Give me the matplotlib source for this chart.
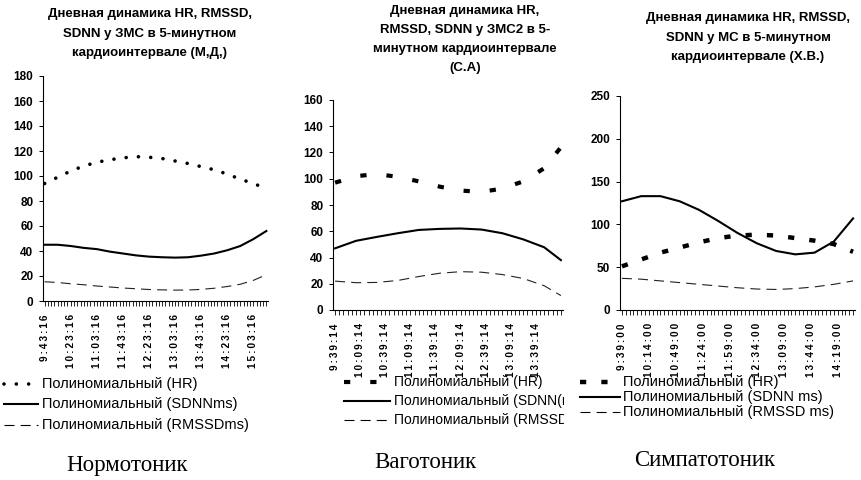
import matplotlib
matplotlib.use('Agg')
import matplotlib.pyplot as plt
from matplotlib.lines import Line2D
from matplotlib.transforms import Bbox, TransformedBbox

# Нормотоник (М.Д.)
p1_title = 'Дневная динамика HR, RMSSD,\nSDNN у ЗМС в 5-минутном\nкардиоинтервале (М,Д,)'
p1_count = 69
p1_step = 8
p1_ticks = ['9:43:16', '10:23:16', '11:03:16', '11:43:16', '12:23:16',
            '13:03:16', '13:43:16', '14:23:16', '15:03:16']
p1_idx = [0, 4, 8, 12, 16, 20, 24, 28, 32, 36, 40, 44, 48, 52, 56, 60, 64, 68]
p1_hr = [94, 99, 104, 108, 111, 113, 114.5, 115.5, 115, 114, 112, 110,
         107.5, 105, 101.5, 97.5, 94, 90]
p1_sdnn = [45, 45, 44, 42.5, 41.5, 39.5, 38, 36.5, 35.5, 35, 34.7, 35,
           36.3, 38, 40.6, 44, 49.5, 56]
p1_rmssd = [15.4, 14.8, 13.8, 13, 12, 11.2, 10.4, 9.8, 9.2, 8.9, 8.7, 8.8,
            9.3, 10.2, 11.6, 13.4, 16.5, 21]
p1_legend = ['Полиномиальный (HR)', 'Полиномиальный (SDNNms)',
             'Полиномиальный (RMSSDms)']

# Ваготоник (С.А)
p2_title = 'Дневная динамика HR,\nRMSSD, SDNN у ЗМС2 в 5-\nминутном кардиоинтервале\n(С.А)'
p2_count = 55
p2_step = 6
p2_ticks = ['9:39:14', '10:09:14', '10:39:14', '11:09:14', '11:39:14',
            '12:09:14', '12:39:14', '13:09:14', '13:39:14']
p2_idx = [0, 5, 10, 15, 20, 25, 30, 35, 40, 45, 50, 54]
p2_hr = [97, 102, 103.5, 101.5, 98, 94, 91, 90, 92.5, 98, 108, 124]
p2_sdnn = [47, 52.7, 55.7, 58.5, 61, 61.8, 62.1, 61.3, 58.5, 53.8, 47.8, 38]
p2_rmssd = [22, 20.8, 21, 22.5, 25.5, 28, 29.2, 28.8, 27, 24, 18.5, 11]
p2_legend = ['Полиномиальный (HR)', 'Полиномиальный (SDNN(ms)',
             'Полиномиальный (RMSSD(ms)']

# Симпатотоник (Х.В.)
p3_title = 'Дневная динамика HR, RMSSD,\nSDNN у МС в 5-минутном\nкардиоинтервале (Х.В.)'
p3_count = 61
p3_step = 7
p3_ticks = ['9:39:00', '10:14:00', '10:49:00', '11:24:00', '11:59:00',
            '12:34:00', '13:09:00', '13:44:00', '14:19:00']
p3_idx = [0, 5, 10, 15, 20, 25, 30, 35, 40, 45, 50, 55, 60]
p3_hr = [51, 59, 67, 73, 79, 84, 87, 88, 87, 84, 81, 77, 68]
p3_sdnn = [127, 133, 133, 127, 117, 104, 90, 78, 69, 65, 67, 80, 107]
p3_rmssd = [37, 36, 34, 32, 30, 28, 26, 24.5, 24, 25, 27, 30, 34]
p3_legend = ['Полиномиальный (HR)', 'Полиномиальный (SDNN ms)',
             'Полиномиальный (RMSSD ms)']

captions = ['Нормотоник', 'Ваготоник', 'Симпатотоник']

W, H = 862, 480
NARROW = ['Liberation Sans Narrow', 'Liberation Sans', 'DejaVu Sans']
SANS = ['Liberation Sans', 'DejaVu Sans']


def px_axes(fig, left, top, right, bottom):
    return fig.add_axes([left / W, 1 - bottom / H, (right - left) / W, (bottom - top) / H])


def spaced(s):
    return '\u2009'.join(s)


def draw_panel(fig, box, ymax, ystep, count, step, ticks, idx, hr, sdnn, rmssd, hr_style):
    ax = px_axes(fig, *box)
    ax.plot(idx, hr, color='black', solid_capstyle='round', **hr_style)
    ax.plot(idx, sdnn, color='black', lw=1.5)
    ax.plot(idx, rmssd, color='#222222', lw=0.8, linestyle=(0, (9, 5.5)))
    ax.set_xlim(-0.5, count - 0.5)
    ax.set_ylim(0, ymax)
    ax.set_yticks(range(0, ymax + 1, ystep))
    ax.set_xticks(range(count))
    labels = [''] * count
    for i, t in enumerate(ticks):
        labels[i * step] = spaced(t)
    ax.set_xticklabels(labels, rotation=90, fontsize=7.2, fontweight='bold', family=SANS)
    for lab in ax.get_yticklabels():
        lab.set_fontweight('bold')
        lab.set_fontsize(8.5)
        lab.set_family(SANS)
    ax.tick_params(axis='x', length=3.5, width=0.6, pad=6)
    ax.tick_params(axis='y', length=3, width=0.7, pad=4)
    ax.spines['top'].set_visible(False)
    ax.spines['right'].set_visible(False)
    ax.spines['left'].set_linewidth(0.8)
    ax.spines['bottom'].set_linewidth(0.8)
    ax.set_facecolor('none')
    return ax


def legend_line(fig, x0, x1, y, **kw):
    fig.add_artist(Line2D([x0 / W, x1 / W], [1 - y / H, 1 - y / H],
                          transform=fig.transFigure, color='black', **kw))


def legend_block(fig, hx0, hx1, tx, ys, texts, hr_style, size, clip_x=None):
    legend_line(fig, hx0, hx1, ys[0], solid_capstyle='round', **hr_style)
    legend_line(fig, hx0, hx1, ys[1], lw=1.5)
    legend_line(fig, hx0, hx1, ys[2], lw=0.8, linestyle=(0, (9, 5.5)))
    for y, t in zip(ys, texts):
        txt = fig.text(tx / W, 1 - y / H, t, fontsize=size, family=NARROW, va='center', ha='left')
        if clip_x is not None:
            txt.set_clip_box(TransformedBbox(Bbox([[0, 0], [clip_x / W, 1]]), fig.transFigure))
            txt.set_clip_on(True)


if __name__ == '__main__':

    fig = plt.figure(figsize=(W / 100, H / 100), dpi=100)
    fig.patch.set_facecolor('white')

    # 1. HR line styles (dots / short thick dashes)
    hr1 = dict(lw=2.6, linestyle=(0, (0.01, 3.4)), dash_capstyle='round')
    hr2 = dict(lw=3.0, linestyle=(0, (1.5, 4.8)))
    hr3 = dict(lw=3.2, linestyle=(0, (1.4, 3.4)))

    # 2. three panels
    draw_panel(fig, (43, 76, 268, 301), 180, 20, p1_count, p1_step, p1_ticks,
               p1_idx, p1_hr, p1_sdnn, p1_rmssd, hr1)
    draw_panel(fig, (333, 100, 563, 310), 160, 20, p2_count, p2_step, p2_ticks,
               p2_idx, p2_hr, p2_sdnn, p2_rmssd, hr2)
    draw_panel(fig, (620, 96, 855, 310), 250, 50, p3_count, p3_step, p3_ticks,
               p3_idx, p3_hr, p3_sdnn, p3_rmssd, hr3)

    # 3. titles
    fig.text(150 / W, 1 - 8 / H, p1_title, ha='center', va='top', fontsize=9.5,
             fontweight='bold', family=NARROW, linespacing=1.86)
    fig.text(465 / W, 1 - 5 / H, p2_title, ha='center', va='top', fontsize=9.5,
             fontweight='bold', family=NARROW, linespacing=1.77)
    fig.text(748 / W, 1 - 12 / H, p3_title, ha='center', va='top', fontsize=9.5,
             fontweight='bold', family=NARROW, linespacing=1.86)

    # 4. legends under the charts
    legend_block(fig, 4, 38, 42, [384, 404, 425], p1_legend, hr1, 10.5)
    legend_block(fig, 344, 390, 394, [382, 401, 420], p2_legend, hr2, 10, clip_x=564)
    legend_block(fig, 580, 620, 623, [382, 397, 412], p3_legend, hr3, 10.5)

    # 5. captions
    for x, y, c in zip([127, 425, 705], [466, 463, 460], captions):
        fig.text(x / W, 1 - y / H, c, ha='center', va='center', fontsize=16.5, family='Liberation Serif')

    fig.savefig('out.png', dpi=100)
    plt.close()
